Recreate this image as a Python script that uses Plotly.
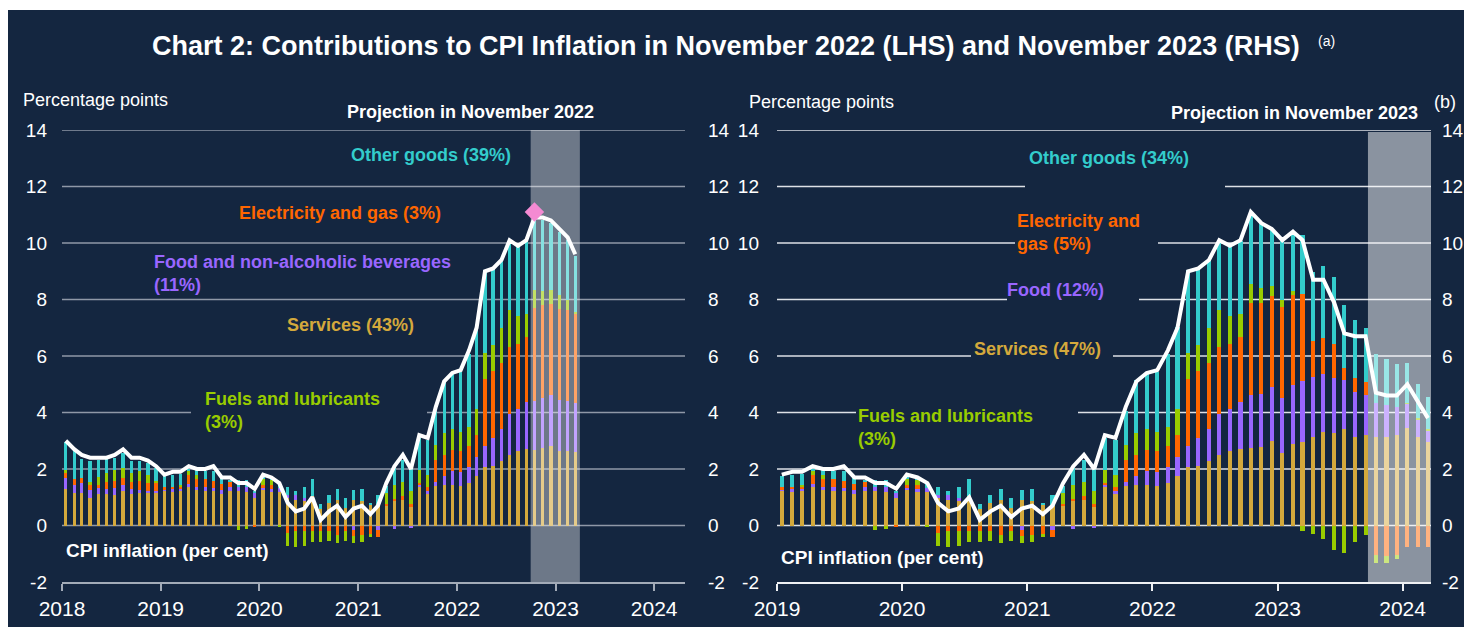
import pandas as pd
import plotly.graph_objects as go

# ---- data (percentage points), monthly Jan 2018 - Sep 2023 outturns ----
services_hist = [
    1.30, 1.14, 1.16, 0.99, 1.10, 1.10, 1.08, 1.22, 1.10, 1.16, 1.16, 1.16,
    1.21, 1.17, 1.21, 1.38, 1.24, 1.23, 1.21, 1.11, 1.21, 1.23, 1.18, 0.99,
    1.25, 1.20, 1.20, 0.97, 0.91, 0.88, 1.03, 0.60, 0.79, 0.91, 0.62, 0.91,
    0.85, 0.71, 0.69, 0.69, 0.87, 0.92, 0.65, 1.35, 1.12, 1.40, 1.45, 1.45,
    1.40, 1.51, 1.76, 2.06, 2.12, 2.29, 2.50, 2.62, 2.70, 2.76, 2.79, 2.98,
    2.55, 2.88, 2.94, 3.12, 3.31, 3.26, 3.40, 3.15, 3.19]
food_hist = [
    0.39, 0.31, 0.33, 0.27, 0.24, 0.20, 0.26, 0.23, 0.18, 0.10, 0.06, 0.06,
    0.08, 0.13, 0.09, 0.09, 0.13, 0.14, 0.12, 0.16, 0.17, 0.12, 0.20, 0.18,
    0.08, 0.10, 0.14, 0.12, 0.18, 0.09, 0.00, 0.00, 0.00, 0.00, 0.00, -0.15,
    0.00, 0.00, -0.15, 0.00, -0.12, 0.00, -0.10, 0.08, 0.09, 0.15, 0.31, 0.48,
    0.50, 0.57, 0.67, 0.77, 0.99, 1.11, 1.46, 1.50, 1.67, 1.86, 1.85, 1.94,
    1.95, 2.08, 2.18, 2.15, 2.05, 1.95, 1.74, 1.58, 1.42]
elec_hist = [
    0.17, 0.20, 0.20, 0.19, 0.11, 0.23, 0.23, 0.24, 0.25, 0.31, 0.29, 0.31,
    0.06, 0.07, 0.05, 0.31, 0.29, 0.29, 0.23, 0.20, 0.16, 0.00, 0.00, -0.05,
    0.12, 0.15, 0.00, -0.27, -0.21, -0.21, -0.19, -0.19, -0.21, -0.33, -0.21, -0.21,
    -0.33, -0.30, -0.24, 0.08, 0.08, 0.12, 0.12, 0.08, 0.14, 0.77, 0.74, 0.75,
    0.74, 0.75, 0.78, 2.37, 2.35, 2.36, 2.35, 2.31, 2.32, 3.26, 3.22, 3.20,
    3.24, 3.19, 3.09, 1.25, 1.28, 1.22, 0.43, 0.48, 0.47]
fuel_hist = [
    0.12, 0.00, 0.00, 0.10, 0.27, 0.33, 0.38, 0.34, 0.33, 0.35, 0.29, 0.06,
    0.00, 0.00, 0.09, 0.16, 0.14, 0.00, 0.00, 0.00, 0.00, -0.15, -0.12, 0.00,
    0.20, 0.15, -0.06, -0.44, -0.54, -0.50, -0.38, -0.38, -0.33, -0.30, -0.33, -0.27,
    -0.27, -0.12, 0.00, 0.38, 0.48, 0.51, 0.44, 0.45, 0.44, 0.54, 0.77, 0.74,
    0.66, 0.66, 0.90, 0.91, 0.94, 1.23, 1.31, 0.97, 0.81, 0.67, 0.53, 0.36,
    0.24, 0.16, -0.21, -0.30, -0.48, -0.86, -0.98, -0.60, -0.33]
other_hist = [
    0.99, 0.97, 0.66, 0.72, 0.61, 0.52, 0.43, 0.53, 0.44, 0.35, 0.41, 0.44,
    0.41, 0.41, 0.38, 0.07, 0.18, 0.28, 0.38, 0.21, 0.08, 0.27, 0.23, 0.06,
    0.10, 0.10, 0.20, 0.29, 0.14, 0.38, 0.61, 0.17, 0.30, 0.39, 0.35, 0.36,
    0.44, 0.10, 0.38, 0.25, 0.59, 0.77, 0.81, 1.14, 1.25, 1.19, 1.87, 1.94,
    2.12, 2.58, 2.91, 2.94, 2.70, 2.41, 2.50, 2.48, 2.56, 2.52, 2.32, 2.00,
    2.08, 2.00, 2.09, 2.47, 2.53, 2.38, 2.23, 2.05, 1.91]
cpi_hist = [
    3.0, 2.7, 2.5, 2.4, 2.4, 2.4, 2.5, 2.7, 2.4, 2.4, 2.3, 2.1,
    1.8, 1.9, 1.9, 2.1, 2.0, 2.0, 2.1, 1.7, 1.7, 1.5, 1.5, 1.3,
    1.8, 1.7, 1.5, 0.8, 0.5, 0.6, 1.0, 0.2, 0.5, 0.7, 0.3, 0.6,
    0.7, 0.4, 0.7, 1.5, 2.1, 2.5, 2.0, 3.2, 3.1, 4.2, 5.1, 5.4,
    5.5, 6.2, 7.0, 9.0, 9.1, 9.4, 10.1, 9.9, 10.1, 11.1, 10.7, 10.5,
    10.1, 10.4, 10.1, 8.7, 8.7, 7.9, 6.8, 6.7, 6.7]

# November 2022 projection, Oct 2022 - Mar 2023
services_p22 = [2.68, 2.74, 2.80, 2.62, 2.65, 2.59]
food_p22 = [1.73, 1.79, 1.81, 1.83, 1.76, 1.76]
elec_p22 = [3.30, 3.29, 3.24, 3.22, 3.21, 3.16]
fuel_p22 = [0.64, 0.47, 0.50, 0.48, 0.38, 0.04]
other_p22 = [2.55, 2.51, 2.35, 2.25, 2.10, 1.98]
cpi_p22 = [10.9, 10.9, 10.8, 10.5, 10.2, 9.6]
outturn_oct22 = 11.1

# November 2023 projection, Oct 2023 - Mar 2024
services_p23 = [3.15, 3.15, 3.19, 3.45, 3.15, 2.95]
food_p23 = [1.20, 1.11, 1.00, 0.86, 0.60, 0.41]
elec_p23 = [-1.05, -1.07, -1.05, -0.77, -0.75, -0.75]
fuel_p23 = [-0.28, -0.26, -0.12, 0.04, 0.06, 0.06]
other_p23 = [1.72, 1.63, 1.52, 1.42, 1.19, 1.13]
cpi_p23 = [4.7, 4.6, 4.6, 5.0, 4.4, 3.8]

y_ticks = [-2, 0, 2, 4, 6, 8, 10, 12, 14]

# ---- styling ----
W, H = 1464, 634
NAVY = "#142640"
FONT = "Liberation Sans, Arial, sans-serif"
COLS = {"services": "#d4a93c", "food": "#9966ff", "elec": "#ff6600",
        "fuel": "#99cc00", "other": "#33cccc"}


def px(x):
    return x / W


def py(y):
    return 1 - y / H


def lighten(hexcol, a):
    r, g, b = (int(hexcol[i:i + 2], 16) for i in (1, 3, 5))
    return "rgb(%d,%d,%d)" % tuple(round(c + (255 - c) * a) for c in (r, g, b))


months_l = pd.date_range("2018-01-01", periods=63, freq="MS") + pd.Timedelta(days=14)
months_r = pd.date_range("2019-01-01", periods=63, freq="MS") + pd.Timedelta(days=14)

left = {
    "services": services_hist[:57] + services_p22,
    "food": food_hist[:57] + food_p22,
    "elec": elec_hist[:57] + elec_p22,
    "fuel": fuel_hist[:57] + fuel_p22,
    "other": other_hist[:57] + other_p22,
}
right = {
    "services": services_hist[12:] + services_p23,
    "food": food_hist[12:] + food_p23,
    "elec": elec_hist[12:] + elec_p23,
    "fuel": fuel_hist[12:] + fuel_p23,
    "other": other_hist[12:] + other_p23,
}
cpi_left = cpi_hist[:57] + cpi_p22
cpi_right = cpi_hist[12:] + cpi_p23

BAR_W = 12 * 86400000

fig = go.Figure()
for key in ["services", "food", "elec", "fuel", "other"]:
    c = COLS[key]
    fig.add_trace(go.Bar(x=months_l, y=left[key], width=BAR_W, xaxis="x", yaxis="y",
                         marker=dict(color=[c] * 57 + [lighten(c, 0.4)] * 6, line_width=0),
                         showlegend=False, hoverinfo="skip"))
    fig.add_trace(go.Bar(x=months_r, y=right[key], width=BAR_W, xaxis="x2", yaxis="y2",
                         marker=dict(color=[c] * 57 + [lighten(c, 0.5)] * 6, line_width=0),
                         showlegend=False, hoverinfo="skip"))

fig.add_trace(go.Scatter(x=months_l, y=cpi_left, mode="lines", xaxis="x", yaxis="y",
                         line=dict(color="white", width=4), showlegend=False, hoverinfo="skip"))
fig.add_trace(go.Scatter(x=months_r, y=cpi_right, mode="lines", xaxis="x2", yaxis="y2",
                         line=dict(color="white", width=4), showlegend=False, hoverinfo="skip"))
fig.add_trace(go.Scatter(x=[months_l[57]], y=[outturn_oct22], mode="markers", xaxis="x", yaxis="y",
                         marker=dict(symbol="diamond", size=15, color="#f48ad2"),
                         showlegend=False, hoverinfo="skip"))
# dummies so the right-hand label axes render
fig.add_trace(go.Scatter(x=[months_l[0]], y=[None], xaxis="x", yaxis="y3", showlegend=False, hoverinfo="skip"))
fig.add_trace(go.Scatter(x=[months_r[0]], y=[None], xaxis="x2", yaxis="y4", showlegend=False, hoverinfo="skip"))

# ---- shapes: background, gridlines (with gaps), projection shading ----
shapes = [dict(type="rect", xref="paper", yref="paper", x0=px(8), x1=1, y0=py(627), y1=py(10),
               fillcolor=NAVY, line_width=0, layer="below")]


def gridlines(x0, x1, gaps, color, yref):
    out = []
    for v in y_ticks[1:]:
        segs, start = [], x0
        for g0, g1 in gaps.get(v, []):
            segs.append((start, g0))
            start = g1
        segs.append((start, x1))
        for a, b in segs:
            out.append(dict(type="line", xref="paper", yref=yref, x0=px(a), x1=px(b), y0=v, y1=v,
                            line=dict(color=color, width=1.5), layer="below"))
    return out


shapes += gridlines(62, 685, {4: [(191, 427)]}, "#8f98a7", "y")
shapes += gridlines(777, 1431, {12: [(1025, 1225)], 10: [(1015, 1158)], 8: [(1007, 1139)],
                                6: [(971, 1113)], 4: [(856, 1078)]}, "#dde1e6", "y2")
shapes.append(dict(type="rect", xref="x", yref="paper", x0="2022-10-01", x1="2023-04-01",
                   y0=py(582), y1=py(130), fillcolor="rgba(255,255,255,0.38)", line_width=0, layer="below"))
shapes.append(dict(type="rect", xref="x2", yref="paper", x0="2023-09-22", x1="2024-03-24",
                   y0=py(582), y1=py(132), fillcolor="rgba(255,255,255,0.5)", line_width=0, layer="below"))


def ann(text, x, y, color="white", size=18, bold=True, xanchor="left", yanchor="middle"):
    t = "<b>%s</b>" % text if bold else text
    return dict(text=t, x=px(x), y=py(y), xref="paper", yref="paper", showarrow=False,
                xanchor=xanchor, yanchor=yanchor, align="left",
                font=dict(family=FONT, size=size, color=color))


annotations = [
    ann("Chart 2: Contributions to CPI Inflation in November 2022 (LHS) and November 2023 (RHS)",
        726, 46, size=27, xanchor="center"),
    ann("(a)", 1316, 41, size=14, bold=False),
    # left panel
    ann("Percentage points", 21, 100, size=18, bold=False),
    ann("Projection in November 2022", 470, 112, size=18, xanchor="center"),
    ann("Other goods (39%)", 431, 155, color=COLS["other"], xanchor="center"),
    ann("Electricity and gas (3%)", 340, 213, color=COLS["elec"], xanchor="center"),
    ann("Food and non-alcoholic beverages<br>(11%)", 152, 273, color=COLS["food"]),
    ann("Services (43%)", 350, 325, color=COLS["services"], xanchor="center"),
    ann("Fuels and lubricants<br>(3%)", 203, 410, color=COLS["fuel"]),
    ann("CPI inflation (per cent)", 64, 550, size=19),
    # right panel
    ann("Percentage points", 747, 102, size=18, bold=False),
    ann("Projection in November 2023", 1420, 113, size=18, xanchor="right"),
    ann("(b)", 1432, 102, size=18, bold=False),
    ann("Other goods (34%)", 1109, 158, color=COLS["other"], xanchor="center"),
    ann("Electricity and<br>gas (5%)", 1015, 233, color=COLS["elec"]),
    ann("Food (12%)", 1005, 290, color=COLS["food"]),
    ann("Services (47%)", 1037, 349, color=COLS["services"], xanchor="center"),
    ann("Fuels and lubricants<br>(3%)", 856, 427, color=COLS["fuel"]),
    ann("CPI inflation (per cent)", 779, 557, size=19),
]

ydom = [py(582), py(130)]
yax = dict(range=[-2, 14], tickvals=y_ticks, ticktext=[str(v) for v in y_ticks],
           showgrid=False, zeroline=False, showline=False, ticks="", automargin=False,
           tickfont=dict(family=FONT, size=19, color="white"), domain=ydom)


def xax(dom, rng, tick0, color):
    return dict(domain=dom, range=rng, type="date", tick0=tick0, dtick="M12", tickformat="%Y",
                showgrid=False, zeroline=False, showline=True, linecolor=color, linewidth=1.5,
                ticks="outside", ticklen=7, tickwidth=1.5, tickcolor=color, automargin=False,
                tickfont=dict(family=FONT, size=21, color="white"))


fig.update_layout(
    width=W, height=H, margin=dict(l=0, r=0, t=0, b=0, autoexpand=False),
    paper_bgcolor="white", plot_bgcolor="rgba(0,0,0,0)",
    barmode="relative", bargap=0, showlegend=False,
    xaxis=xax([px(62), px(685)], ["2018-01-01", "2024-04-24"], "2018-01-01", "#a3abb8"),
    xaxis2=xax([px(777), px(1431)], ["2019-01-01", "2024-03-24"], "2019-01-01", "#eef0f3"),
    yaxis=dict(yax, anchor="x", ticklabelstandoff=14),
    yaxis2=dict(yax, anchor="x2", ticklabelstandoff=17),
    yaxis3=dict(yax, anchor="x", overlaying="y", side="right", ticklabelstandoff=22),
    yaxis4=dict(yax, anchor="x2", overlaying="y2", side="right", ticklabelstandoff=10),
    shapes=shapes, annotations=annotations,
)

fig.write_html("out.html", config={"displayModeBar": False},
               post_script="document.body.style.margin='0';document.body.style.overflow='hidden';")
